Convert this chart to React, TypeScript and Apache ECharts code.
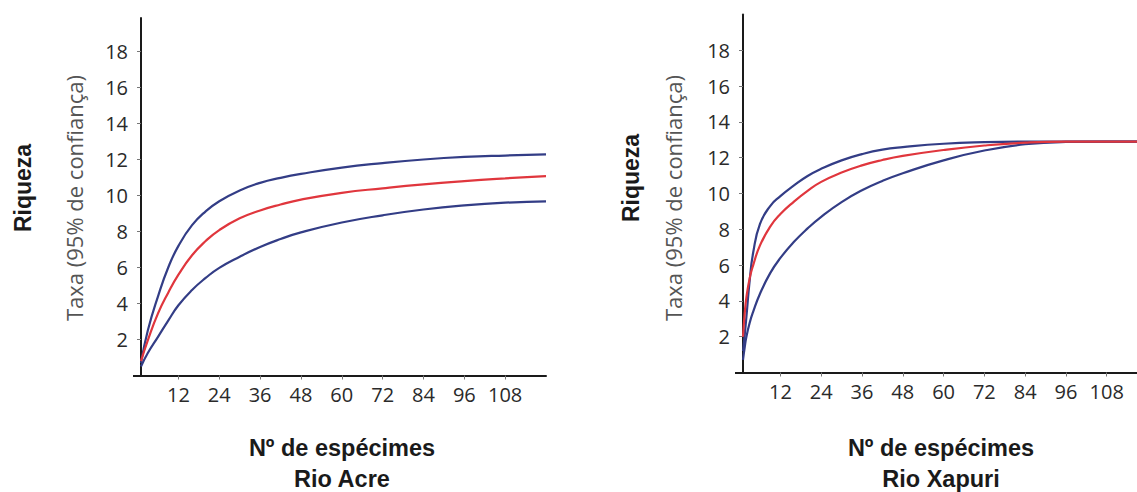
import React, { useEffect, useRef } from "react";
import * as echarts from "echarts";

// ---- data ----
const xAcre = [1, 3, 6, 9, 12, 16, 20, 24, 30, 36, 42, 48, 60, 72, 84, 96, 108, 120];
const acreUpper = [0.7, 2.5, 4.4, 6.0, 7.2, 8.35, 9.12, 9.68, 10.28, 10.7, 10.98, 11.2, 11.55, 11.8, 12.0, 12.14, 12.22, 12.28];
const acreMean = [0.8, 1.95, 3.45, 4.6, 5.6, 6.68, 7.47, 8.08, 8.73, 9.17, 9.5, 9.77, 10.15, 10.4, 10.62, 10.8, 10.95, 11.08];
const acreLower = [0.5, 1.25, 2.15, 3.05, 3.9, 4.75, 5.42, 5.98, 6.6, 7.14, 7.58, 7.95, 8.5, 8.9, 9.22, 9.45, 9.6, 9.67];

const xXapuri = [1, 1.5, 2, 3, 4, 6, 9, 12, 16, 20, 24, 30, 36, 42, 48, 60, 72, 84, 96, 108, 117];
const xapuriUpper = [1.2, 2.1, 3.1, 5.2, 6.7, 8.3, 9.3, 9.85, 10.45, 10.98, 11.38, 11.85, 12.2, 12.45, 12.59, 12.78, 12.87, 12.9, 12.9, 12.9, 12.9];
const xapuriMean = [2.0, 3.3, 4.2, 5.3, 6.0, 7.1, 8.15, 8.85, 9.55, 10.15, 10.65, 11.17, 11.57, 11.87, 12.1, 12.43, 12.68, 12.84, 12.9, 12.9, 12.9];
const xapuriLower = [0.7, 1.4, 2.0, 2.8, 3.4, 4.4, 5.55, 6.4, 7.3, 8.05, 8.7, 9.52, 10.18, 10.7, 11.13, 11.85, 12.4, 12.75, 12.88, 12.9, 12.9];

const xTicks = [12, 24, 36, 48, 60, 72, 84, 96, 108];
const yTicks = [2, 4, 6, 8, 10, 12, 14, 16, 18];

const yTitle = "Riqueza";
const ySubTitle = "Taxa (95% de confiança)";
const xTitle = "Nº de espécimes";
const panelNames = ["Rio Acre", "Rio Xapuri"];

const BLUE = "#333d86";
const RED = "#e0363d";
const AXIS = "#1a1a1a";
const TICKFONT = "'Open Sans', 'Noto Sans', sans-serif";
const BOLDFONT = "'Liberation Sans', Arial, sans-serif";

function pairs(xs: number[], ys: number[]) {
  return xs.map((x, i) => [x, ys[i]]);
}

export default function App() {
  const ref = useRef<HTMLDivElement>(null);
  useEffect(() => {
    if (!ref.current) return;
    const chart = echarts.init(ref.current, undefined, { renderer: "svg" });

    const grids = [
      { left: 141, top: 18, width: 405, height: 357.5 },
      { left: 743, top: 14.5, width: 394, height: 358 },
    ];
    const xMax = [120, 116.9];
    const yMax = [19.86, 20];

    const xAxis = grids.map((_, i) => ({
      type: "value",
      gridIndex: i,
      min: 1,
      max: xMax[i],
      axisLine: { show: true, onZero: false, lineStyle: { color: AXIS, width: 2 } },
      axisTick: { show: true, customValues: xTicks, length: 4, lineStyle: { color: "#777", width: 1 } },
      axisLabel: {
        customValues: xTicks,
        margin: 9,
        color: "#2a2a2a",
        fontSize: 20,
        fontFamily: TICKFONT,
      },
      splitLine: { show: false },
    }));

    const yAxis: any[] = [];
    grids.forEach((_, i) => {
      yAxis.push({
        type: "value",
        gridIndex: i,
        position: "left",
        min: 0,
        max: yMax[i],
        axisLine: { show: true, onZero: false, lineStyle: { color: AXIS, width: 2 } },
        axisTick: { show: true, customValues: yTicks, length: 4, lineStyle: { color: "#777", width: 1 } },
        axisLabel: {
          customValues: yTicks,
          margin: 13,
          color: "#2a2a2a",
          fontSize: 20,
          fontFamily: TICKFONT,
        },
        splitLine: { show: false },
      });
      yAxis.push({
        type: "value",
        gridIndex: i,
        position: "left",
        min: 0,
        max: yMax[i],
        axisLine: { show: false },
        axisTick: { show: true, customValues: [0], length: 8, lineStyle: { color: AXIS, width: 2 } },
        axisLabel: { show: false },
        splitLine: { show: false },
      });
    });

    const mk = (name: string, data: number[][], color: string, idx: number) => ({
      type: "line",
      name,
      xAxisIndex: idx,
      yAxisIndex: idx * 2,
      data,
      smooth: 0.5,
      showSymbol: false,
      symbol: "none",
      lineStyle: { color, width: 2.2 },
      z: color === RED ? 3 : 2,
    });

    const series = [
      mk("acre-upper", pairs(xAcre, acreUpper), BLUE, 0),
      mk("acre-lower", pairs(xAcre, acreLower), BLUE, 0),
      mk("acre-mean", pairs(xAcre, acreMean), RED, 0),
      mk("xapuri-upper", pairs(xXapuri, xapuriUpper), BLUE, 1),
      mk("xapuri-lower", pairs(xXapuri, xapuriLower), BLUE, 1),
      mk("xapuri-mean", pairs(xXapuri, xapuriMean), RED, 1),
    ];

    const vText = (x: number, y: number, text: string, bold: boolean) => ({
      type: "text",
      x,
      y,
      rotation: Math.PI / 2,
      style: {
        text,
        align: "center",
        verticalAlign: "middle",
        fill: bold ? "#1a1a1a" : "#555",
        font: bold ? `bold 23px ${BOLDFONT}` : `22px ${TICKFONT}`,
      },
    });
    const hText = (x: number, y: number, text: string) => ({
      type: "text",
      x,
      y,
      style: {
        text,
        align: "center",
        verticalAlign: "middle",
        fill: "#1a1a1a",
        font: `bold 23.5px ${BOLDFONT}`,
      },
    });

    chart.setOption({
      animation: false,
      backgroundColor: "#ffffff",
      grid: grids,
      xAxis,
      yAxis,
      series,
      graphic: [
        vText(23, 188, yTitle, true),
        vText(74, 198, ySubTitle, false),
        hText(342, 448, xTitle),
        hText(342, 479, panelNames[0]),
        vText(631, 178, yTitle, true),
        vText(673, 198, ySubTitle, false),
        hText(941, 448, xTitle),
        hText(941, 479, panelNames[1]),
      ],
    });
    return () => chart.dispose();
  }, []);
  return (
    <div
      ref={ref}
      style={{ position: "absolute", left: 0, top: 0, width: 1137, height: 492 }}
    />
  );
}
